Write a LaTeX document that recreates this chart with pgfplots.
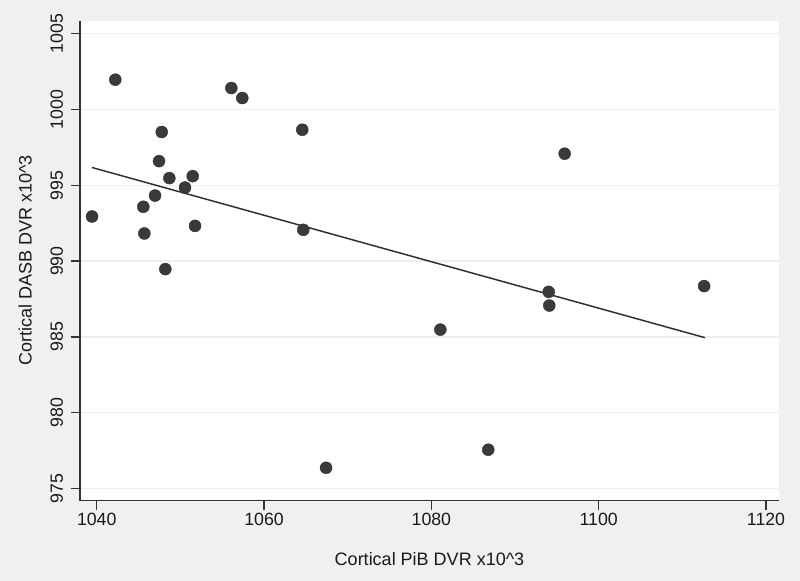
\documentclass[border=0pt]{standalone}
\usepackage{pgfplots}
\pgfplotsset{compat=1.18}
\usepackage{fontspec}
\setmainfont{Liberation Sans}
\definecolor{bgc}{HTML}{F0F0F0}
\definecolor{gridc}{HTML}{EEEEEE}
\definecolor{dotc}{HTML}{3A3A3A}
\definecolor{linec}{HTML}{2E2E2E}
\definecolor{axc}{HTML}{333333}
\begin{document}
\begin{tikzpicture}
\fill[bgc] (-60pt,-60.225pt) rectangle (540pt,375.525pt);
\useasboundingbox (-60pt,-60.225pt) rectangle (540pt,375.525pt);
\begin{axis}[
  at={(0,0)}, anchor=south west,
  width=524.25pt, height=360pt, scale only axis,
  axis background/.style={fill=white},
  xmin=1038, xmax=1121.55, ymin=974.2, ymax=1005.85,
  xtick={1040,1060,1080,1100,1120},
  ytick={975,980,985,990,995,1000,1005},
  axis x line*=bottom, axis y line*=left,
  axis line style={color=axc, line width=1.1pt},
  tick align=outside, major tick length=6.75pt,
  tick style={color=axc, line width=1.1pt},
  ymajorgrids, grid style={color=gridc, line width=1pt},
  /pgf/number format/assume math mode=true,
  /pgf/number format/1000 sep={},
  ticklabel style={font=\fontsize{13.3}{16}\selectfont, text=black!90},
  yticklabel style={rotate=90, anchor=base},
  yticklabel shift=6pt,
  xticklabel style={inner sep=2.5pt},
  label style={font=\fontsize{13.5}{16}\selectfont, text=black!90},
  xlabel={Cortical PiB DVR x10\textasciicircum 3},
  ylabel={Cortical DASB DVR x10\textasciicircum 3},
  xlabel style={at={(axis description cs:0.5,-0.1347)}, anchor=base},
  ylabel style={at={(axis description cs:-0.0691,0.5)}, anchor=base, rotate=0},
  clip=false,
]
\addplot[only marks, mark=*, mark size=4.5pt, mark options={fill=dotc, draw=dotc!80!black, line width=0.3pt}] coordinates {
(1039.44,992.94) (1042.22,1001.96) (1045.57,993.58) (1045.69,991.82)
(1046.97,994.32) (1047.45,996.59) (1047.77,998.51) (1048.20,989.47)
(1048.68,995.47) (1050.55,994.85) (1051.47,995.60) (1051.75,992.32)
(1056.09,1001.41) (1057.40,1000.75) (1064.57,998.66) (1064.69,992.06)
(1067.41,976.37) (1081.07,985.48) (1086.80,977.56) (1094.02,987.97)
(1094.09,987.07) (1095.93,997.08) (1112.60,988.35)
};
\addplot[color=linec, line width=1.1pt] coordinates {(1039.44,996.17) (1112.70,984.95)};
\end{axis}
\end{tikzpicture}
\end{document}
